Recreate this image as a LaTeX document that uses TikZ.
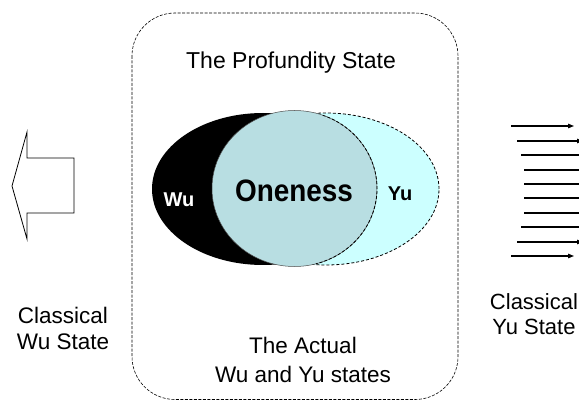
\documentclass[tikz,border=0pt]{standalone}
\usepackage{fontspec}
\usepackage{graphicx}
\setmainfont{Liberation Sans}
\usetikzlibrary{arrows.meta}
\definecolor{oneblue}{RGB}{184,222,226}
\definecolor{yucyan}{RGB}{204,255,255}
\begin{document}
\begin{tikzpicture}[x=1pt,y=-1pt,
  lbl/.style={font=\fontsize{22.5}{26}\selectfont, align=center, inner sep=0pt},
  blbl/.style={font=\fontsize{20}{24}\selectfont\bfseries, inner sep=0pt},
  flow/.style={line width=1.2pt, -{Triangle[length=6pt,width=4.5pt]}},
  framebox/.style={draw, dash pattern=on 3pt off 1.5pt, line width=0.6pt, rounded corners=43pt},
  bigarrow/.style={draw, fill=white, line width=0.8pt, line join=miter}]
\useasboundingbox (0,0) rectangle (579,401);
\clip (0,0) rectangle (579,401);
% frame
\draw[framebox] (132,13) rectangle (458,399.5);
% ellipses
\fill[yucyan] (326,189) ellipse [x radius=113pt, y radius=76pt];
\draw[line width=0.8pt, dash pattern=on 3pt off 2pt] (326,189) ellipse [x radius=113pt, y radius=76pt];
\fill[black] (263,189) ellipse [x radius=111pt, y radius=76pt];
\fill[oneblue] (294.5,188.5) ellipse [x radius=82.5pt, y radius=78pt];
\draw[line width=0.5pt, black!70] (294.5,188.5) ellipse [x radius=82.5pt, y radius=78pt];
\draw[line width=0.8pt, dash pattern=on 3pt off 2pt] (294.5,188.5) ++(70:82.5pt and 78pt) arc[start angle=70, end angle=-75, x radius=82.5pt, y radius=78pt];
% left arrow
\draw[bigarrow] (12,186) -- (27,132) -- (27,158) -- (74,158) -- (74,213) -- (27,213) -- (27,239) -- cycle;
% right arrows
\foreach \yy/\xa/\xb [count=\i] in {126/511/574, 141/517/583, 155/521/585, 170/524/594, 184/524/594, 198/524/594, 213/524/594, 227/521/585, 242/517/583, 256/511/574} {
  \coordinate (s\i) at (\xa,\yy);
  \coordinate (e\i) at (\xb,\yy);
  \draw[flow] (s\i) -- (e\i);
}
% texts
\node[lbl, font=\fontsize{23}{26}\selectfont] (title) at (291,63) {The Profundity State};
\node[font=\fontsize{31}{34}\selectfont\bfseries, inner sep=0pt] (one) at (294,191) {\scalebox{0.9}[1]{Oneness}};
\node[blbl, white] (wu) at (179,200) {Wu};
\node[blbl] (yu) at (400,194) {Yu};
\node[lbl] (cwu) at (63,328) {Classical\\Wu State};
\node[lbl, font=\fontsize{22.5}{29}\selectfont] (actual) at (303,360) {The Actual\\Wu and Yu states};
\node[lbl, font=\fontsize{22}{25}\selectfont] (cyu) at (534,314) {Classical\\Yu State};
\end{tikzpicture}
\end{document}
